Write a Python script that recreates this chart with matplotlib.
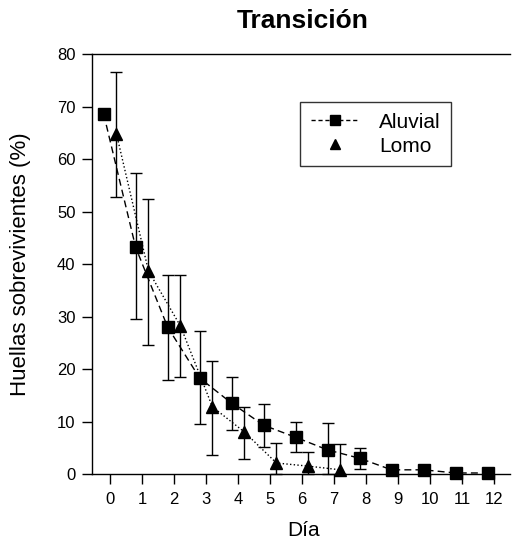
import matplotlib
matplotlib.use('Agg')
import matplotlib.pyplot as plt
from matplotlib.lines import Line2D
import numpy as np

plt.rcParams['font.family'] = ['Liberation Sans', 'DejaVu Sans']

dias = np.arange(13)
aluvial = [68.6, 43.2, 28.0, 18.3, 13.5, 9.3, 7.0, 4.6, 3.0, 0.8, 0.8, 0.2, 0.2]
aluvial_err_lo = [0.0, 13.7, 10.0, 8.8, 5.1, 4.2, 2.8, 4.6, 2.0, 0.0, 0.0, 0.0, 0.0]
aluvial_err_hi = [0.0, 14.1, 10.0, 8.9, 5.0, 4.0, 2.9, 5.1, 1.9, 0.0, 0.0, 0.0, 0.0]

dias_lomo = np.arange(8)
lomo = [64.8, 38.7, 28.2, 12.8, 8.0, 2.1, 1.5, 0.8]
lomo_err_lo = [12.0, 14.2, 9.7, 9.2, 5.1, 2.1, 1.5, 0.8]
lomo_err_hi = [11.8, 13.7, 9.8, 8.7, 4.8, 3.8, 2.7, 4.9]

fig = plt.figure(figsize=(5.12, 5.48), dpi=100)
ax = fig.add_axes([0.18, 0.135, 0.816, 0.766])

ax.errorbar(dias - 0.2, aluvial, yerr=[aluvial_err_lo, aluvial_err_hi],
            fmt='s', color='black', ecolor='black', elinewidth=1.0, capsize=4,
            markersize=8, clip_on=False, zorder=3)
ax.plot(dias - 0.2, aluvial, color='black', linestyle=(0, (5, 3)), linewidth=1.0, zorder=2)

ax.errorbar(dias_lomo + 0.2, lomo, yerr=[lomo_err_lo, lomo_err_hi],
            fmt='^', color='black', ecolor='black', elinewidth=1.0, capsize=4,
            markersize=8, clip_on=False, zorder=3)
ax.plot(dias_lomo + 0.2, lomo, color='black', linestyle=':', linewidth=1.0, zorder=2)

ax.set_xlim(-0.56, 12.5)
ax.set_ylim(0, 80)
ax.set_xticks(dias)
ax.set_yticks(np.arange(0, 81, 10))
ax.tick_params(direction='out', length=7, width=1, labelsize=12, colors='black', pad=5)
ax.tick_params(axis='x', pad=6)
ax.spines['right'].set_visible(False)
for s in ['left', 'bottom', 'top']:
    ax.spines[s].set_linewidth(1.0)

ax.set_xlabel('Día', fontsize=15)
ax.xaxis.set_label_coords(0.505, -0.112)
ax.set_ylabel('Huellas sobrevivientes (%)', fontsize=16)
ax.yaxis.set_label_coords(-0.146, 0.5)
ax.text(0.505, 1.079, 'Transición', transform=ax.transAxes, ha='center', va='center',
        fontsize=19, fontweight='bold')

handles = [
    Line2D([], [], color='black', linestyle=(0, (3, 2)), marker='s', markersize=7, linewidth=1.0),
    Line2D([], [], color='none', marker='^', markerfacecolor='black', markeredgecolor='black', markersize=7),
]
leg = ax.legend(handles, ['Aluvial', 'Lomo'], loc='upper left',
                bbox_to_anchor=(0.498, 0.886), borderaxespad=0, fontsize=15, frameon=True,
                fancybox=False, edgecolor='black', handlelength=2.3,
                borderpad=0.5, labelspacing=0.25, handletextpad=1.0)
leg.get_frame().set_linewidth(1.0)

fig.savefig('out.png', dpi=100)
